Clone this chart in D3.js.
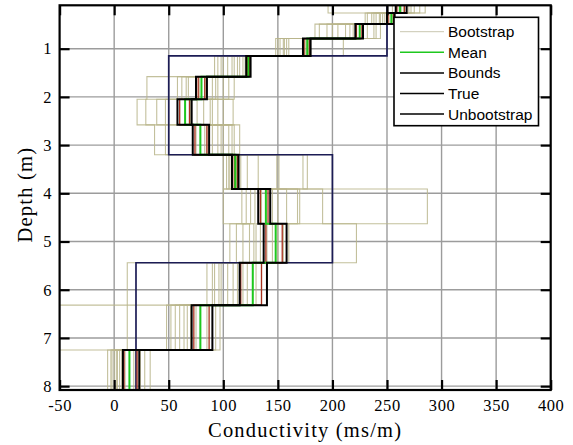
<!DOCTYPE html>
<html>
<head>
<meta charset="utf-8">
<script src="https://cdn.jsdelivr.net/npm/d3@7"></script>
<style>
  body { margin: 0; background: #fff; }
  svg { display: block; }
</style>
</head>
<body>
<div class="canvas"></div>
<script>
// layer interfaces (m); last layer runs to the bottom of the axis
const layerDepths = [0, 0.26, 0.49, 0.79, 1.15, 1.58, 2.05, 2.58, 3.2, 3.91, 4.63, 5.44, 6.32, 7.25, 8.1];

// bootstrap realisations, one value per layer (ms/m)
const bootstrap = [
  [262, 254, 225, 177, 110, 30, 21, 37, 108, 125, 118, 104, 60, 3],
  [258, 246, 212, 156, 104, 62, 29, 47, 103, 121, 112, 98, 56, 0],
  [270, 240, 205, 152, 98, 58, 39, 90, 106, 117, 124, 92, 52, -3],
  [265, 236, 195, 148, 92, 68, 47, 95, 100, 129, 106, 85, 48, -6],
  [255, 232, 188, 160, 115, 90, 76, 100, 112, 145, 130, 109, 64, 5],
  [280, 250, 219, 175, 120, 95, 82, 105, 116, 150, 140, 113, 67, 7],
  [268, 256, 232, 179, 122, 100, 88, 110, 122, 158, 150, 118, 93, 24],
  [196, 243, 238, 210, 95, 105, 95, 115, 132, 168, 155, 122, 97, 28],
  [260, 230, 244, 150, 108, 110, 100, 75, 149, 191, 222, 96, 85, 33],
  [275, 252, 184, 158, 118, 78, 109, 85, 151, 170, 134, 12, 12, 2],
  [250, 238, 200, 178, 124, 84, 60, 98, 173, 287, 145, 135, -60, 18],
  [285, 244, 228, 155, 100, 93, 70, 108, 177, 135, 160, 130, 75, 10],
  [263, 255, 216, 176, 113, 66, 90, 83, 105, 100, 128, 90, 70, -2],
  [272, 248, 240, 174, 123, 80, 65, 79, 111, 139, 148, 127, 79, 14]
];

const meanModel  = [262, 254, 225, 177, 123, 80, 65, 79, 111, 139, 148, 127, 79, 14];
const lowerBound = [258, 250, 221, 173, 121, 75, 58, 72, 108, 132, 137, 115, 71, 8];
const upperBound = [268, 257, 228, 180, 125, 85, 71, 87, 114, 143, 158, 140, 90, 23];
const unbootLow  = [259, 251, 222, 174, 122, 77, 60, 74, 110, 134, 139, 116, 73, 9];
const unbootHigh = [266, 256, 227, 179, 124, 83, 69, 85, 113, 141, 154, 135, 87, 21];

const trueDepths = [0, 1.15, 3.2, 5.44, 8.1];
const trueValues = [250, 50, 200, 20];

const xTicks = [-50, 0, 50, 100, 150, 200, 250, 300, 350, 400];
const yTicks = [1, 2, 3, 4, 5, 6, 7, 8];
const legendItems = ["Bootstrap", "Mean", "Bounds", "True", "Unbootstrap"];

const width = 573;
const height = 445;
const marginLeft = 59.6, plotRight = 550.7, marginTop = 5.3, plotBottom = 390;

const x = d3.scaleLinear().domain([-50, 400]).range([marginLeft, plotRight]);
const y = d3.scaleLinear().domain([0.1, 8.08]).range([marginTop, plotBottom]);

const svg = d3.select(".canvas").append("svg")
  .attr("width", width)
  .attr("height", height);

svg.append("clipPath").attr("id", "plot")
  .append("rect")
  .attr("x", marginLeft).attr("y", marginTop)
  .attr("width", plotRight - marginLeft).attr("height", plotBottom - marginTop);

// grid
const grid = svg.append("g").attr("stroke", "#9c9c9c").attr("stroke-width", 1.4);
grid.selectAll(".gx").data(xTicks.slice(1, -1)).join("line")
  .attr("x1", d => x(d)).attr("x2", d => x(d))
  .attr("y1", marginTop).attr("y2", plotBottom);
grid.selectAll(".gy").data(yTicks).join("line")
  .attr("x1", marginLeft).attr("x2", plotRight)
  .attr("y1", d => y(d)).attr("y2", d => y(d));

// turn a per-layer model into a stepped profile
function steps(values, depths) {
  const pts = [];
  values.forEach((v, i) => {
    pts.push([v, depths[i]]);
    pts.push([v, depths[i + 1]]);
  });
  return pts;
}

const line = d3.line().x(d => x(d[0])).y(d => y(d[1]));
const data = svg.append("g").attr("clip-path", "url(#plot)").attr("fill", "none");

data.selectAll(".boot").data(bootstrap).join("path")
  .attr("d", d => line(steps(d, layerDepths)))
  .attr("stroke", "#b9b58b")
  .attr("stroke-opacity", 0.85)
  .attr("stroke-width", 1.1);

data.append("path")
  .attr("d", line(steps(trueValues, trueDepths)))
  .attr("stroke", "#1c1c55")
  .attr("stroke-width", 1.7);

[unbootLow, unbootHigh].forEach(m => {
  data.append("path")
    .attr("d", line(steps(m, layerDepths)))
    .attr("stroke", "#a8321f")
    .attr("stroke-width", 1.3);
});

data.append("path")
  .attr("d", line(steps(meanModel, layerDepths)))
  .attr("stroke", "#1ec81e")
  .attr("stroke-width", 2);

[lowerBound, upperBound].forEach(m => {
  data.append("path")
    .attr("d", line(steps(m, layerDepths)))
    .attr("stroke", "#000")
    .attr("stroke-width", 2);
});

// axes box with inward ticks on all sides
const axisFont = "'Liberation Serif', 'Times New Roman', serif";

const gx = svg.append("g")
  .attr("transform", "translate(0," + plotBottom + ")")
  .call(d3.axisBottom(x).tickValues(xTicks).tickFormat(d => String(d))
    .tickSizeInner(-10).tickSizeOuter(0).tickPadding(9));
const gy = svg.append("g")
  .attr("transform", "translate(" + marginLeft + ",0)")
  .call(d3.axisLeft(y).tickValues(yTicks).tickFormat(d => String(d))
    .tickSizeInner(-10).tickSizeOuter(0).tickPadding(8));
const gxt = svg.append("g")
  .attr("transform", "translate(0," + marginTop + ")")
  .call(d3.axisTop(x).tickValues(xTicks).tickSize(-10).tickFormat(""));
const gyr = svg.append("g")
  .attr("transform", "translate(" + plotRight + ",0)")
  .call(d3.axisRight(y).tickValues(yTicks).tickSize(-10).tickFormat(""));

[gx, gy, gxt, gyr].forEach(g => {
  g.select(".domain").remove();
  g.selectAll(".tick line").attr("stroke", "#000").attr("stroke-width", 2.2);
  g.selectAll("text").attr("font-family", axisFont).attr("font-size", 16.5).attr("fill", "#000");
});
gx.selectAll("text").attr("letter-spacing", 0.6);

svg.append("rect")
  .attr("x", marginLeft).attr("y", marginTop)
  .attr("width", plotRight - marginLeft).attr("height", plotBottom - marginTop)
  .attr("fill", "none").attr("stroke", "#000").attr("stroke-width", 2.2);

svg.append("text")
  .attr("x", (marginLeft + plotRight) / 2).attr("y", 437)
  .attr("text-anchor", "middle")
  .attr("font-family", axisFont).attr("font-size", 20.5)
  .attr("letter-spacing", 1.2)
  .text("Conductivity (ms/m)");

svg.append("text")
  .attr("transform", "translate(32," + ((marginTop + plotBottom) / 2 - 3) + ") rotate(-90)")
  .attr("text-anchor", "middle")
  .attr("font-family", axisFont).attr("font-size", 20.5)
  .attr("letter-spacing", 1.2)
  .text("Depth (m)");

// legend
const legend = svg.append("g");
legend.append("rect")
  .attr("x", 394).attr("y", 17.3).attr("width", 144.5).attr("height", 108.4)
  .attr("fill", "#fff").attr("stroke", "#000").attr("stroke-width", 1.6);
const legendColors = ["#c9c7b0", "#1ec81e", "#000", "#000", "#000"];
const row = legend.selectAll(".item").data(legendItems).join("g")
  .attr("transform", (d, i) => "translate(0," + (31.7 + i * 20.6) + ")");
row.append("line")
  .attr("x1", 400).attr("x2", 444)
  .attr("stroke", (d, i) => legendColors[i])
  .attr("stroke-width", (d, i) => i === 0 ? 1 : 1.5);
row.append("text")
  .attr("x", 448).attr("dy", "0.36em")
  .attr("font-family", "'Liberation Sans', Arial, sans-serif")
  .attr("font-size", 15.5)
  .text(d => d);
</script>
</body>
</html>
